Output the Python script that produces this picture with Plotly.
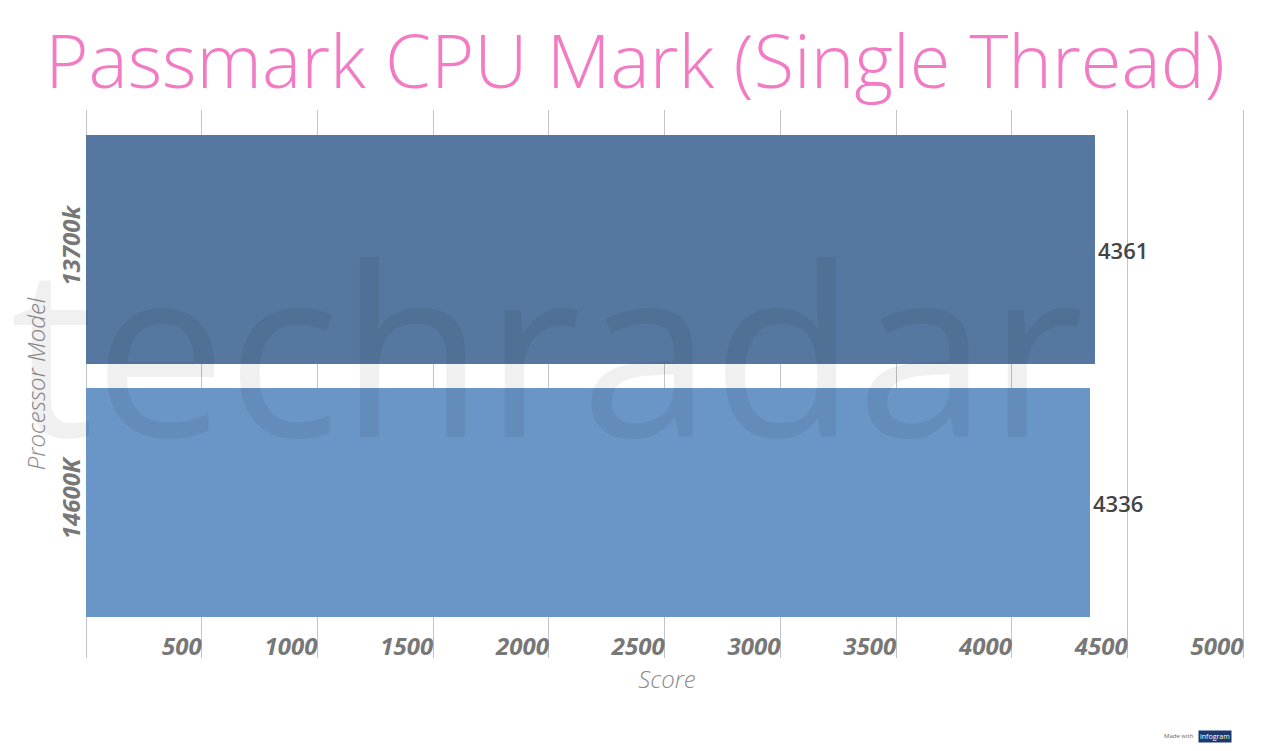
import plotly.graph_objects as go

categories = ["14600K", "13700k"]
scores = [4336, 4361]
bar_colors = ["#6a95c7", "#56779f"]
x_ticks = [500, 1000, 1500, 2000, 2500, 3000, 3500, 4000, 4500, 5000]
x_tick_labels = [str(v) for v in x_ticks]

L, R, T, B = 86, 32, 110, 93
PW, PH = 1280 - L - R, 751 - T - B

fig = go.Figure()
fig.add_trace(go.Bar(
    y=categories, x=scores, orientation="h",
    marker=dict(color=bar_colors, line=dict(width=0)),
    width=0.905,
    text=[str(v) for v in scores], textposition="outside",
    textfont=dict(family="Open Sans", size=22, color="#444444", weight=600),
    cliponaxis=False,
))

fig.update_layout(
    width=1280, height=751,
    paper_bgcolor="white", plot_bgcolor="white",
    margin=dict(l=L, r=R, t=T, b=B),
    showlegend=False,
    title=dict(
        text="Passmark CPU Mark (Single Thread)",
        font=dict(family="Open Sans", size=74, color="#f27bc4", weight=300),
        x=635 / 1280, xanchor="center", xref="container",
        y=1 - 62 / 751, yanchor="middle", yref="container",
    ),
    xaxis=dict(
        range=[0, 5020], tickvals=x_ticks, ticktext=x_tick_labels,
        ticklabelposition="inside left", ticklabelstandoff=-8,
        tickfont=dict(family="Open Sans", size=24, color="#777777", weight=700, style="italic"),
        showgrid=True, gridcolor="#c4c4c4", gridwidth=1,
        zeroline=True, zerolinecolor="#c4c4c4", zerolinewidth=1,
        showline=False, ticks="",
        title=dict(text="Score", standoff=4,
                   font=dict(family="Open Sans", size=24, color="#8a8a8a", style="italic", weight=300)),
    ),
    yaxis=dict(
        range=[-0.615, 1.551], tickangle=-90,
        tickfont=dict(family="Open Sans", size=24, color="#777777", weight=700, style="italic"),
        showgrid=False, showline=False, ticks="", ticklabelstandoff=0,
        title=dict(text="Processor Model", standoff=1,
                   font=dict(family="Open Sans", size=24, color="#8a8a8a", style="italic", weight=300)),
    ),
    bargap=0,
)

# watermark
fig.add_annotation(
    text="techradar", xref="paper", yref="paper",
    x=(8 - L) / PW, y=(658 - 345) / PH,
    xanchor="left", yanchor="middle", showarrow=False,
    font=dict(family="Open Sans", size=236, color="rgba(0,0,0,0.06)", weight=500),
)

# infogram credit
fig.add_annotation(
    text="Made with", xref="paper", yref="paper",
    x=(1196 - L) / PW, y=-(736 - 658) / PH,
    xanchor="right", yanchor="middle", showarrow=False,
    font=dict(family="Open Sans", size=6, color="#666666"),
)
fig.add_annotation(
    text="infogram", xref="paper", yref="paper",
    x=(1198 - L) / PW, y=-(736 - 658) / PH,
    xanchor="left", yanchor="middle", showarrow=False, bgcolor="#1b3a6b",
    font=dict(family="Open Sans", size=7, color="white"),
)

fig.write_html("out.html")
